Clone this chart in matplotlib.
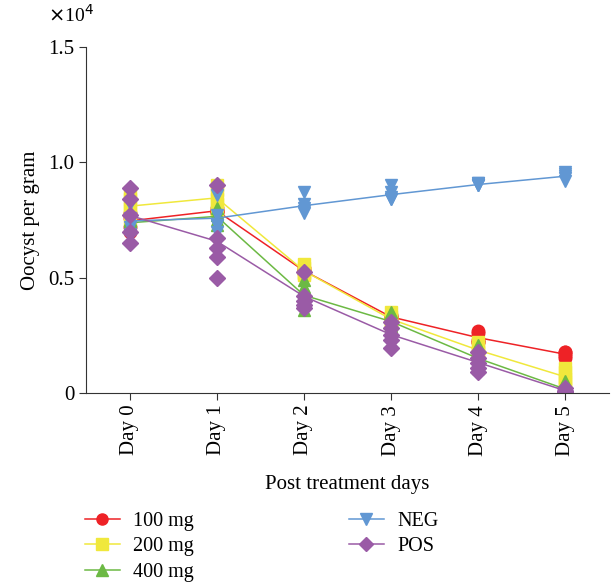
import matplotlib
matplotlib.use('Agg')
import matplotlib.pyplot as plt
from matplotlib.lines import Line2D
import numpy as np

plt.rcParams['font.family'] = ['Liberation Serif', 'DejaVu Serif']

days = ['Day 0', 'Day 1', 'Day 2', 'Day 3', 'Day 4', 'Day 5']

# replicate counts (x10^4 oocysts per gram), one row per day
mg100 = [[0.76, 0.78, 0.72, 0.70, 0.77],
         [0.79, 0.78, 0.80, 0.79, 0.79],
         [0.53, 0.54, 0.52, 0.53, 0.53],
         [0.34, 0.33, 0.33, 0.32, 0.33],
         [0.27, 0.26, 0.22, 0.23, 0.22],
         [0.18, 0.17, 0.15, 0.16, 0.18]]
mg200 = [[0.87, 0.84, 0.79, 0.80, 0.75],
         [0.90, 0.88, 0.84, 0.82, 0.79],
         [0.56, 0.54, 0.52, 0.51, 0.52],
         [0.35, 0.33, 0.31, 0.30, 0.31],
         [0.22, 0.20, 0.18, 0.17, 0.16],
         [0.11, 0.09, 0.06, 0.05, 0.04]]
mg400 = [[0.74, 0.72, 0.75, 0.73, 0.75],
         [0.80, 0.78, 0.75, 0.73, 0.77],
         [0.49, 0.46, 0.42, 0.39, 0.36],
         [0.35, 0.33, 0.30, 0.29, 0.28],
         [0.21, 0.17, 0.14, 0.12, 0.11],
         [0.05, 0.02, 0.01, 0.00, 0.005]]
neg = [[0.82, 0.74, 0.72, 0.69, 0.76],
       [0.86, 0.77, 0.73, 0.70, 0.73],
       [0.87, 0.82, 0.79, 0.78, 0.80],
       [0.90, 0.87, 0.84, 0.85, 0.84],
       [0.91, 0.90, 0.91, 0.90, 0.90],
       [0.96, 0.95, 0.92, 0.93, 0.94]]
pos = [[0.89, 0.84, 0.77, 0.70, 0.65],
       [0.90, 0.67, 0.63, 0.59, 0.50],
       [0.526, 0.42, 0.40, 0.37, 0.38],
       [0.31, 0.28, 0.25, 0.23, 0.195],
       [0.18, 0.15, 0.13, 0.11, 0.09],
       [0.02, 0.01, 0.01, 0.005, 0.005]]

groups = [('100 mg', mg100, '#ee2226', 'o', 9),
          ('200 mg', mg200, '#f0e83c', 's', 9),
          ('400 mg', mg400, '#6cb944', '^', 9),
          ('NEG', neg, '#6197d3', 'v', 9),
          ('POS', pos, '#9a5ba6', 'D', 8)]

fig = plt.figure(figsize=(6.11, 5.84), dpi=100)
ax = fig.add_axes([0.1408, 0.327, 0.8559, 0.5925])

x = np.arange(len(days))
for name, vals, col, mk, ms in groups:
    v = np.array(vals)
    for i in range(len(days)):
        ax.plot([x[i]] * v.shape[1], v[i], ls='none', marker=mk, ms=ms,
                color=col, mec=col)
    ax.plot(x, v.mean(axis=1), '-', color=col, lw=1.1, label=name)

ax.set_xlim(-0.5, 5.5)
ax.set_ylim(0, 1.5)
ax.set_yticks([0, 0.5, 1.0, 1.5])
ax.set_yticklabels(['0', '0.5', '1.0', '1.5'], fontsize=15)
ax.set_xticks(x)
ax.set_xticklabels(days, rotation=90, fontsize=15)
for s in ['top', 'right']:
    ax.spines[s].set_visible(False)
for s in ['left', 'bottom']:
    ax.spines[s].set_color('#333333')
ax.tick_params(direction='out', length=5, color='#333333')
ax.set_ylabel('Oocyst per gram', fontsize=15, labelpad=6)
ax.set_xlabel('Post treatment days', fontsize=15, labelpad=14)
fig.text(0.078, 0.962, r'$\times$10$^4$', fontsize=14)

labels = [g[0] for g in groups]
hs = [Line2D([], [], color=g[2], marker=g[3], ms=g[4] - 1, lw=1.1) for g in groups]
fig.legend(hs, labels, ncol=2, loc='upper left', bbox_to_anchor=(0.109, 0.154),
           frameon=False, fontsize=14.5, columnspacing=7.7, handlelength=1.75,
           handletextpad=0.65, labelspacing=0.3)

fig.savefig('out.png', dpi=100)
